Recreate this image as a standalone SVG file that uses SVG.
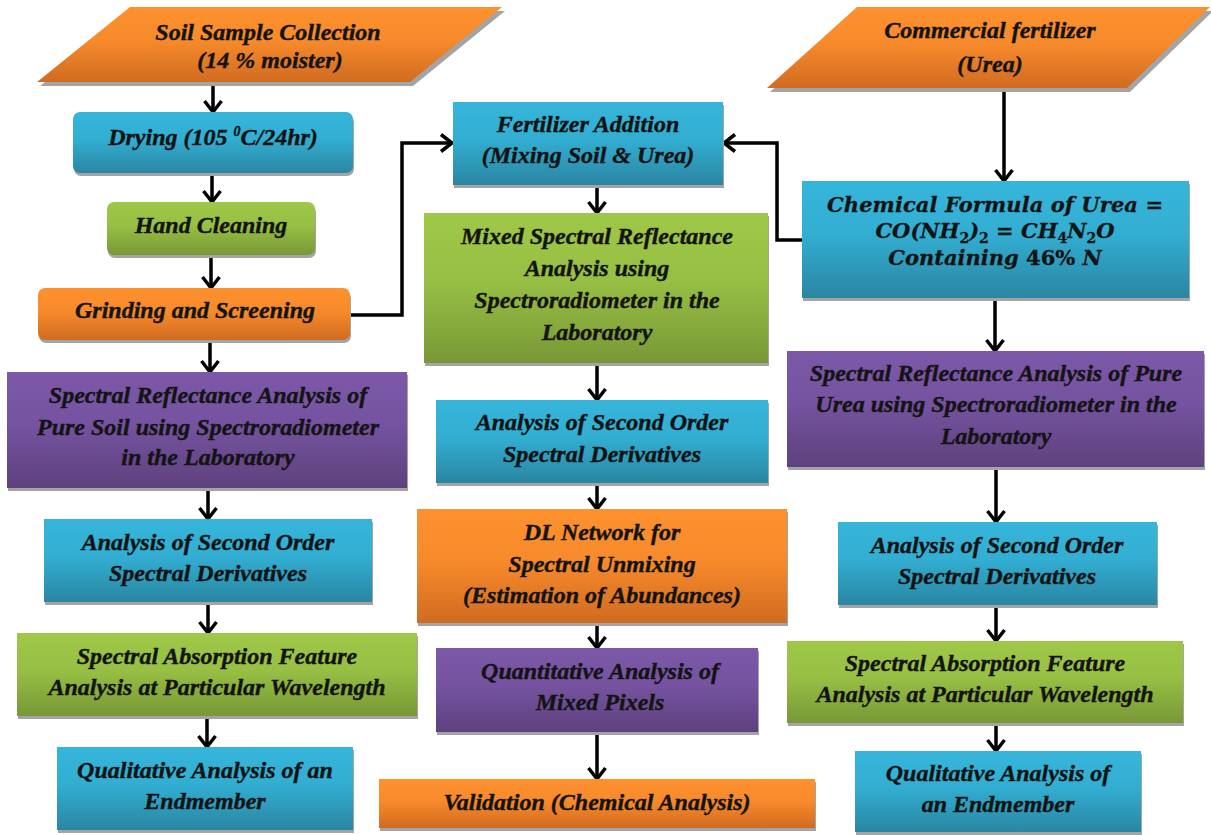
<svg xmlns="http://www.w3.org/2000/svg" width="1211" height="835" viewBox="0 0 1211 835">
<defs>
<linearGradient id="gBlue" x1="0" y1="0" x2="0" y2="1"><stop offset="0" stop-color="#36b5da"/><stop offset="0.45" stop-color="#32aed2"/><stop offset="1" stop-color="#2a86a2"/></linearGradient>
<linearGradient id="gOrange" x1="0" y1="0" x2="0" y2="1"><stop offset="0" stop-color="#fd912e"/><stop offset="0.45" stop-color="#f78a2b"/><stop offset="1" stop-color="#d06b20"/></linearGradient>
<linearGradient id="gGreen" x1="0" y1="0" x2="0" y2="1"><stop offset="0" stop-color="#9fc848"/><stop offset="0.45" stop-color="#97bf44"/><stop offset="1" stop-color="#789836"/></linearGradient>
<linearGradient id="gPurple" x1="0" y1="0" x2="0" y2="1"><stop offset="0" stop-color="#7c59a8"/><stop offset="0.45" stop-color="#7553a0"/><stop offset="1" stop-color="#5e417d"/></linearGradient>
<marker id="ah" viewBox="0 0 20 20" refX="17" refY="10" markerWidth="20" markerHeight="20" markerUnits="userSpaceOnUse" orient="auto"><path d="M6,1.5 L17,10 L6,18.5" fill="none" stroke="#000" stroke-width="3.5"/></marker>
<style>
.t{font-family:"Liberation Serif","Times New Roman",serif;font-weight:bold;font-style:italic;font-size:24px;fill:#141414;stroke:#141414;stroke-width:0.4;text-anchor:middle}
.m{font-family:"DejaVu Serif","Liberation Serif",serif;font-weight:bold;font-style:italic;font-size:21px;fill:#141414;stroke:#141414;stroke-width:0.3;text-anchor:middle}
.sh{fill:#a4a4a4}
.blue{fill:url(#gBlue)}
.orange{fill:url(#gOrange)}
.green{fill:url(#gGreen)}
.purple{fill:url(#gPurple)}
.c{fill:none;stroke:#000;stroke-width:3.5;marker-end:url(#ah)}
.sub{font-size:14px}
.up{font-style:normal}
</style>
</defs>
<rect width="1211" height="835" fill="#fff"/>

<g id="connectors">
<line class="c" x1="213" y1="85" x2="213" y2="112"/>
<line class="c" x1="212" y1="173" x2="212" y2="202"/>
<line class="c" x1="211" y1="255" x2="211" y2="288"/>
<line class="c" x1="210" y1="340" x2="210" y2="372"/>
<line class="c" x1="208" y1="488" x2="208" y2="519"/>
<line class="c" x1="208" y1="602" x2="208" y2="633"/>
<line class="c" x1="207" y1="716" x2="207" y2="747"/>
<path class="c" d="M350,315 H402 V143 H452"/>
<line class="c" x1="597" y1="185" x2="597" y2="213"/>
<line class="c" x1="597" y1="363" x2="597" y2="400"/>
<line class="c" x1="597" y1="483" x2="597" y2="509"/>
<line class="c" x1="597" y1="623" x2="597" y2="648"/>
<line class="c" x1="597" y1="732" x2="597" y2="779"/>
<line class="c" x1="1004" y1="90" x2="1004" y2="181"/>
<path class="c" d="M802,240 H777 V143 H724"/>
<line class="c" x1="995" y1="298" x2="995" y2="351"/>
<line class="c" x1="996" y1="467" x2="996" y2="522"/>
<line class="c" x1="996" y1="605" x2="996" y2="641"/>
<line class="c" x1="996" y1="723" x2="996" y2="751"/>
</g>

<g id="soil-sample-collection">
<polygon class="sh" points="133,11 505,11 413,86 40,86"/>
<polygon class="orange" points="130,7 502,7 410,82 37,82"/>
<text class="t" x="268" y="40">Soil Sample Collection</text>
<text class="t" x="270" y="68">(14 % moister)</text>
</g>

<g id="drying">
<rect class="sh" x="74" y="115" width="280" height="61" rx="7"/>
<rect class="blue" x="73" y="112" width="280" height="61" rx="7"/>
<text class="t" x="213" y="145">Drying (105 <tspan class="sub" dy="-9">0</tspan><tspan dy="9">C/24hr)</tspan></text>
</g>

<g id="hand-cleaning">
<rect class="sh" x="108" y="205" width="208" height="53" rx="7"/>
<rect class="green" x="107" y="202" width="208" height="53" rx="7"/>
<text class="t" x="211" y="233">Hand Cleaning</text>
</g>

<g id="grinding">
<rect class="sh" x="39" y="291" width="312" height="52" rx="7"/>
<rect class="orange" x="38" y="288" width="312" height="52" rx="7"/>
<text class="t" x="195" y="318">Grinding and Screening</text>
</g>

<g id="soil-reflectance">
<rect class="sh" x="8" y="375" width="400" height="116"/>
<rect class="purple" x="7" y="372" width="400" height="116"/>
<text class="t" x="208" y="403">Spectral Reflectance Analysis of</text>
<text class="t" x="208" y="435">Pure Soil using Spectroradiometer</text>
<text class="t" x="208" y="465">in the Laboratory</text>
</g>

<g id="soil-derivatives">
<rect class="sh" x="45" y="522" width="328" height="83"/>
<rect class="blue" x="44" y="519" width="328" height="83"/>
<text class="t" x="208" y="550">Analysis of Second Order</text>
<text class="t" x="208" y="581">Spectral Derivatives</text>
</g>

<g id="soil-absorption">
<rect class="sh" x="18" y="636" width="400" height="83"/>
<rect class="green" x="17" y="633" width="400" height="83"/>
<text class="t" x="217" y="664">Spectral Absorption Feature</text>
<text class="t" x="217" y="695">Analysis at Particular Wavelength</text>
</g>

<g id="soil-qualitative">
<rect class="sh" x="58" y="750" width="296" height="83"/>
<rect class="blue" x="57" y="747" width="296" height="83"/>
<text class="t" x="205" y="778">Qualitative Analysis of an</text>
<text class="t" x="205" y="809">Endmember</text>
</g>

<g id="fertilizer-addition">
<rect class="sh" x="454" y="105" width="270" height="83"/>
<rect class="blue" x="453" y="102" width="270" height="83"/>
<text class="t" x="588" y="132">Fertilizer Addition</text>
<text class="t" x="588" y="163">(Mixing Soil &amp; Urea)</text>
</g>

<g id="mixed-reflectance">
<rect class="sh" x="425" y="216" width="344" height="150"/>
<rect class="green" x="424" y="213" width="344" height="150"/>
<text class="t" x="597" y="244">Mixed Spectral Reflectance</text>
<text class="t" x="597" y="276">Analysis using</text>
<text class="t" x="597" y="308">Spectroradiometer in the</text>
<text class="t" x="597" y="340">Laboratory</text>
</g>

<g id="mixed-derivatives">
<rect class="sh" x="437" y="403" width="332" height="83"/>
<rect class="blue" x="436" y="400" width="332" height="83"/>
<text class="t" x="602" y="430">Analysis of Second Order</text>
<text class="t" x="602" y="462">Spectral Derivatives</text>
</g>

<g id="dl-network">
<rect class="sh" x="418" y="512" width="370" height="114"/>
<rect class="orange" x="417" y="509" width="370" height="114"/>
<text class="t" x="602" y="540">DL Network for</text>
<text class="t" x="602" y="572">Spectral Unmixing</text>
<text class="t" x="602" y="603">(Estimation of Abundances)</text>
</g>

<g id="quantitative">
<rect class="sh" x="437" y="651" width="322" height="84"/>
<rect class="purple" x="436" y="648" width="322" height="84"/>
<text class="t" x="600" y="679">Quantitative Analysis of</text>
<text class="t" x="600" y="710">Mixed Pixels</text>
</g>

<g id="validation">
<rect class="sh" x="380" y="782" width="436" height="49"/>
<rect class="orange" x="379" y="779" width="436" height="49"/>
<text class="t" x="597" y="810">Validation (Chemical Analysis)</text>
</g>

<g id="commercial-fertilizer">
<polygon class="sh" points="860,11 1213,11 1130,92 770,92"/>
<polygon class="orange" points="857,7 1210,7 1127,88 767,88"/>
<text class="t" x="990" y="38">Commercial fertilizer</text>
<text class="t" x="990" y="72">(Urea)</text>
</g>

<g id="chemical-formula">
<rect class="sh" x="803" y="184" width="387" height="117"/>
<rect class="blue" x="802" y="181" width="387" height="117"/>
<text class="m" x="995" y="212" textLength="336" lengthAdjust="spacing">Chemical Formula of Urea <tspan class="up">=</tspan></text>
<text class="m" x="995" y="238">CO(NH<tspan class="sub up" dy="5">2</tspan><tspan dy="-5">)</tspan><tspan class="sub up" dy="5">2</tspan><tspan class="up" dy="-5"> = </tspan>CH<tspan class="sub up" dy="5">4</tspan><tspan dy="-5">N</tspan><tspan class="sub up" dy="5">2</tspan><tspan dy="-5">O</tspan></text>
<text class="m" x="995" y="265">Containing <tspan class="up">46%</tspan> N</text>
</g>

<g id="urea-reflectance">
<rect class="sh" x="788" y="354" width="417" height="116"/>
<rect class="purple" x="787" y="351" width="417" height="116"/>
<text class="t" x="996" y="381">Spectral Reflectance Analysis of Pure</text>
<text class="t" x="996" y="412">Urea using Spectroradiometer in the</text>
<text class="t" x="996" y="444">Laboratory</text>
</g>

<g id="urea-derivatives">
<rect class="sh" x="839" y="525" width="319" height="83"/>
<rect class="blue" x="838" y="522" width="319" height="83"/>
<text class="t" x="997" y="553">Analysis of Second Order</text>
<text class="t" x="997" y="584">Spectral Derivatives</text>
</g>

<g id="urea-absorption">
<rect class="sh" x="788" y="644" width="396" height="82"/>
<rect class="green" x="787" y="641" width="396" height="82"/>
<text class="t" x="985" y="671">Spectral Absorption Feature</text>
<text class="t" x="985" y="702">Analysis at Particular Wavelength</text>
</g>

<g id="urea-qualitative">
<rect class="sh" x="856" y="754" width="286" height="81"/>
<rect class="blue" x="855" y="751" width="286" height="81"/>
<text class="t" x="998" y="781">Qualitative Analysis of</text>
<text class="t" x="998" y="812">an Endmember</text>
</g>
</svg>
